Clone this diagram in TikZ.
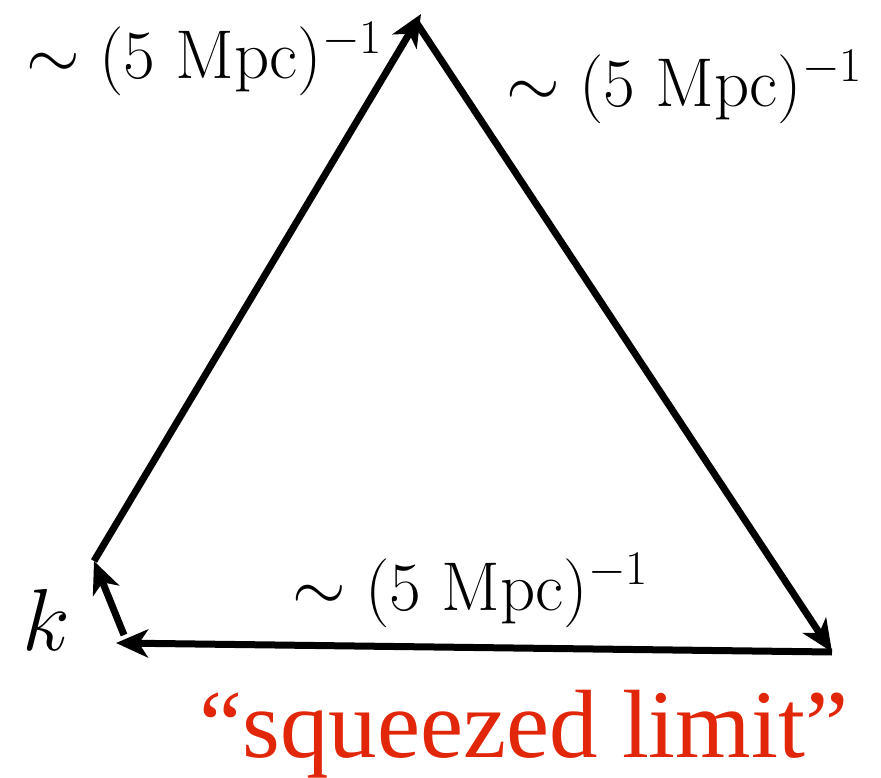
\RequirePackage{fix-cm}
\documentclass[tikz,border=0pt]{standalone}
\usepackage{fontspec}
\newfontfamily\timesf{Liberation Serif}
\usetikzlibrary{arrows.meta}
\definecolor{sqred}{RGB}{225,38,10}
\tikzset{
  vec/.style={line width=7pt, -{Stealth[length=32pt, width=28pt, inset=9pt]}},
  lbl/.style={anchor=base west, inner sep=0pt, font=\fontsize{69}{80}\selectfont},
}
\begin{document}
\begin{tikzpicture}[x=1pt,y=-1pt]
\useasboundingbox (0,0) rectangle (881,778);
\coordinate (A) at (421,14);
\coordinate (B) at (832,652);
\coordinate (C) at (116,643);
\coordinate (D) at (94,561);
\coordinate (E) at (124,635);
\coordinate (As) at (416,22);
\draw[vec] (D) -- (A);
\draw[vec] (As) -- (B);
\draw[vec] (B) -- (C);
\draw[vec] (E) -- (D);
\node[lbl] (l1) at (26,79) {$\sim(5\ \mathrm{Mpc})^{-1}$};
\node[lbl] (l2) at (506,107) {$\sim(5\ \mathrm{Mpc})^{-1}$};
\node[lbl] (l3) at (292,610) {$\sim(5\ \mathrm{Mpc})^{-1}$};
\node[anchor=base west, inner sep=0pt, font=\fontsize{88}{100}\selectfont] (k) at (22,650) {$k$};
\node[anchor=base west, inner sep=0pt, text=sqred, font=\timesf\fontsize{97}{110}\selectfont] (sq) at (199,757) {“squeezed limit”};
\end{tikzpicture}
\end{document}
